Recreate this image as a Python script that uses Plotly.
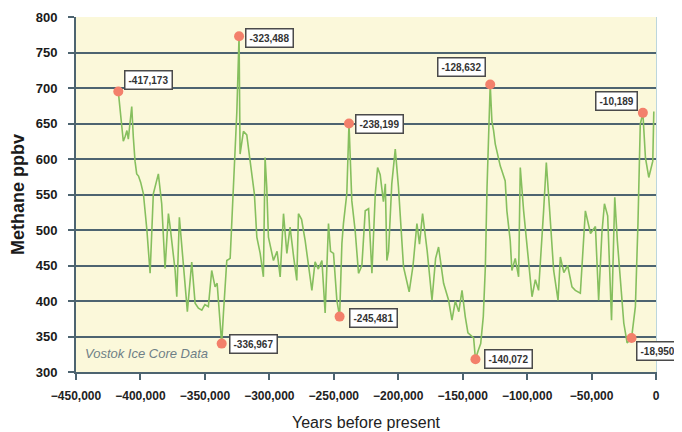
import plotly.graph_objects as go

# Vostok methane record (years before present, ppbv)
years = [
    -417173, -415500, -413300, -411800, -410500, -409400, -408000, -406750, -405500, -404200,
    -402900, -401500, -399800, -397700, -395000, -392500, -390000, -386100, -383500, -380900,
    -378300, -377000, -373100, -371800, -369800, -367500, -365400, -363600, -360200, -357600,
    -355000, -352400, -350000, -347300, -344700, -342100, -340500, -338200, -336967, -335600,
    -333000, -330400, -327100, -325200, -323488, -323000, -322700, -320100, -317500, -314900,
    -311600, -309700, -307100, -304600, -303300, -302000, -300700, -296800, -294000, -291600,
    -289000, -286400, -283900, -281000, -278700, -277400, -275000, -272200, -269600, -267000,
    -264500, -262000, -259200, -256700, -254100, -252500, -250200, -247600, -245481, -243700,
    -242500, -239900, -238199, -237300, -236000, -233400, -230800, -228200, -225600, -223000,
    -220400, -217800, -216000, -214000, -211500, -210000, -208800, -207500, -205000, -202300,
    -199800, -195900, -191500, -188500, -185500, -183500, -181100, -177500, -173800, -171000,
    -168700, -164800, -160900, -158300, -155700, -153000, -150500, -148000, -145900, -141500,
    -140072, -138000, -136000, -134000, -132400, -131100, -129800, -128632, -127300, -126000,
    -124700, -123400, -122100, -120800, -119500, -117000, -115700, -113100, -111800, -109200,
    -106600, -105300, -102700, -100100, -96200, -93600, -91100, -87200, -85100, -82500,
    -79400, -76000, -74200, -71500, -68500, -65200, -62600, -58700, -54800, -50800,
    -47000, -44500, -42000, -40000, -37500, -34500, -32000, -30000, -27500, -25000,
    -22400, -18950, -16000, -14000, -12200, -10189, -8200, -5600, -2500, -1700,
]
methane = [
    695, 660, 625, 632, 640, 628, 650, 674, 630, 597,
    579, 576, 567, 551, 500, 439, 551, 579, 537, 446,
    523, 505, 443, 406, 518, 470, 429, 385, 455, 397,
    390, 387, 395, 392, 443, 420, 425, 373, 340, 383,
    457, 460, 593, 667, 773, 700, 607, 639, 634, 597,
    551, 490, 467, 434, 602, 560, 490, 457, 470, 434,
    523, 467, 504, 460, 429, 523, 515, 485, 453, 415,
    455, 445, 457, 383, 509, 470, 467, 401, 378, 481,
    509, 551, 650, 597, 541, 499, 439, 450, 527, 530,
    439, 551, 588, 578, 540, 565, 457, 470, 565, 614,
    560, 448, 413, 450, 509, 480, 523, 470, 401, 460,
    476, 425, 401, 373, 400, 385, 415, 378, 355, 348,
    318, 330, 340, 378, 448, 560, 653, 705, 653, 640,
    621, 610, 600, 590, 583, 569, 527, 485, 443, 460,
    434, 588, 527, 481, 406, 430, 415, 527, 595, 527,
    443, 401, 462, 440, 450, 420, 415, 411, 527, 495,
    505, 401, 495, 537, 520, 373, 546, 485, 420, 369,
    341, 348, 392, 509, 649, 665, 602, 574, 597, 667,
]

# Highlighted extremes
peak_years = [-417173, -323488, -238199, -128632, -10189]
peak_vals = [695, 773, 650, 705, 665]
trough_years = [-336967, -245481, -140072, -18950]
trough_vals = [340, 378, 318, 348]

x_ticks = list(range(-450000, 1, 50000))
y_ticks = list(range(300, 801, 50))

fig = go.Figure()
fig.add_trace(go.Scatter(x=years, y=methane, mode="lines",
                         line=dict(color="#86bf5e", width=1.6), hoverinfo="skip"))
fig.add_trace(go.Scatter(x=peak_years + trough_years, y=peak_vals + trough_vals, mode="markers",
                         marker=dict(color="#f3806b", size=10), hoverinfo="skip"))
# invisible trace for gridline overlay axis
fig.add_trace(go.Scatter(x=[x_ticks[0]], y=[y_ticks[0]], yaxis="y2", mode="markers",
                         marker=dict(opacity=0), hoverinfo="skip"))

label_font = dict(family="Liberation Sans", size=10, color="#333333", weight="bold")
offsets = {
    -417173: ("left", 6, 12),
    -323488: ("left", 6, -2),
    -238199: ("left", 6, 0),
    -128632: ("right", -4, 17),
    -10189: ("right", -5, 12),
    -336967: ("left", 7, 0),
    -245481: ("left", 9, -1),
    -140072: ("left", 9, 0),
    -18950: ("left", 4, -13),
}
for yr, v in zip(peak_years + trough_years, peak_vals + trough_vals):
    anc, xs, ys = offsets[yr]
    fig.add_annotation(x=yr, y=v, xref="x", yref="y", text=f"{yr:,}", showarrow=False,
                       xanchor=anc, yanchor="middle", xshift=xs, yshift=ys,
                       font=label_font, bgcolor="white", bordercolor="#4a4a4a",
                       borderwidth=1.5, borderpad=3)

fig.add_annotation(x=0.012, y=0.053, xref="paper", yref="paper", text="<i>Vostok Ice Core Data</i>",
                   showarrow=False, xanchor="left", yanchor="middle",
                   font=dict(family="Liberation Sans", size=13, color="#6f7f86"))

fig.update_layout(
    width=674, height=424,
    margin=dict(l=68, r=26, t=9, b=60, autoexpand=False),
    paper_bgcolor="white", plot_bgcolor="#fbf8da",
    showlegend=False,
    xaxis=dict(range=[-450000, 0], tickvals=x_ticks, tickformat=",d", automargin=False,
               tickfont=dict(family="Liberation Sans", size=12, color="#222222", weight="bold"),
               ticks="outside", ticklen=6, tickwidth=1.5, tickcolor="#4d6470",
               showline=True, linecolor="#4d6470", linewidth=2, showgrid=False, zeroline=False,
               ticklabelstandoff=6,
               title=dict(text="Years before present", standoff=14,
                          font=dict(family="Liberation Sans", size=16, color="#222222"))),
    yaxis=dict(range=[300, 800], tickvals=y_ticks, automargin=False,
               tickfont=dict(family="Liberation Sans", size=13, color="#1a1a1a", weight="bold"),
               ticks="outside", ticklen=6, tickwidth=1.5, tickcolor="#4d6470",
               showline=True, linecolor="#4d6470", linewidth=2, showgrid=False, zeroline=False,
               ticklabelstandoff=8,
               title=dict(text="Methane ppbv", standoff=10,
                          font=dict(family="Liberation Sans", size=18, color="#1a1a1a", weight="bold"))),
    yaxis2=dict(range=[300, 800], overlaying="y", side="right", tickvals=y_ticks[1:-1],
                automargin=False,
                showticklabels=False, ticks="", showgrid=True, gridcolor="#4d6470", gridwidth=2,
                showline=True, linecolor="#bcd6dd", linewidth=1, zeroline=False),
)

fig.write_html("out.html")
